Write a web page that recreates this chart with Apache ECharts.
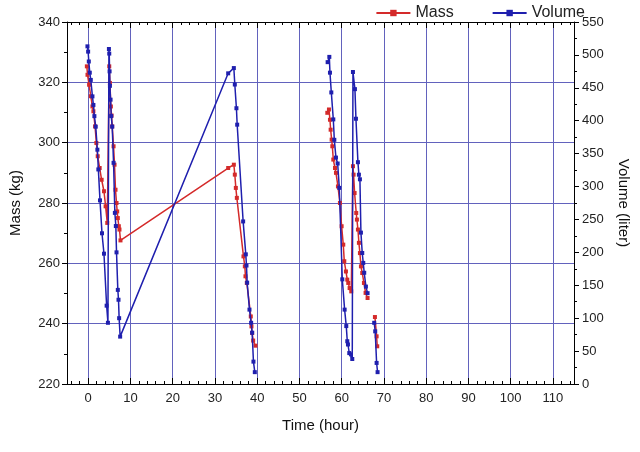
<!DOCTYPE html>
<html>
<head>
<meta charset="utf-8">
<script src="https://cdn.jsdelivr.net/npm/echarts@6/dist/echarts.min.js"></script>
<style>
html,body{margin:0;padding:0;background:#fff;}
#c{width:640px;height:452px;}
</style>
</head>
<body>
<div id="c"></div>
<script>
// Tick values
const xMajorTicks = [0,10,20,30,40,50,60,70,80,90,100,110];
const xMinorTicks = [-4,-2,2,4,6,8,12,14,16,18,22,24,26,28,32,34,36,38,42,44,46,48,52,54,56,58,62,64,66,68,72,74,76,78,82,84,86,88,92,94,96,98,102,104,106,108,112,114];

// Mass series (kg) – null marks a break in the line
const massTime = [
  -0.3,-0.15,0.23,0.63,1.02,1.25,1.64,1.95,2.27,2.73,3.2,3.75,4.14,4.53,
  5.0,5.16,5.39,5.55,5.7,6.02,6.25,6.48,6.72,6.88,7.03,7.27,7.42,7.66,
  33.15,34.49,34.72,34.96,35.2,36.77,37.09,37.24,37.56,38.5,38.66,38.82,39.06,39.61,
  null,
  56.61,57.0,57.24,57.4,57.64,57.8,58.03,58.43,58.66,59.13,59.6,60.0,60.39,60.63,61.02,61.34,61.57,61.89,62.28,
  62.68,62.83,63.07,63.46,63.62,63.86,64.09,64.33,64.57,64.88,65.28,65.67,66.14,
  null,
  67.88,68.28,68.43
];
const massValue = [
  325.3,322.5,319.2,315.4,312.0,310.4,305.4,299.9,295.5,291.6,287.7,283.9,278.9,273.4,
  325.3,319.8,312.0,309.0,305.4,298.8,292.7,284.4,280.0,277.2,275.0,272.3,271.2,267.6,
  291.6,292.7,289.4,285.0,281.7,262.3,259.0,255.7,253.5,242.4,239.1,236.9,234.4,232.7,
  null,
  309.9,311.0,307.6,304.3,301.0,298.8,294.4,291.6,290.0,285.5,280.0,272.3,266.2,260.7,257.3,254.6,253.5,251.8,250.7,
  292.2,289.4,283.3,276.7,274.5,271.2,266.8,263.4,259.0,256.8,253.5,250.2,248.5,
  null,
  242.2,235.8,232.5
];

// Volume series (liter)
const volTime = [
  -0.16,0,0.16,0.39,0.63,1.02,1.25,1.48,1.8,2.19,2.42,2.81,3.28,3.75,4.38,4.69,
  4.92,5.0,5.08,5.16,5.31,5.47,5.7,6.02,6.33,6.56,6.72,7.03,7.19,7.34,7.58,
  33.15,34.49,34.72,35.1,35.28,36.69,37.32,37.48,37.64,38.19,38.58,38.82,39.13,39.45,
  null,
  56.69,57.09,57.24,57.56,58.03,58.27,58.66,59.06,59.45,60.16,60.71,61.1,61.34,61.5,61.81,62.2,62.52,
  62.68,63.15,63.39,63.86,64.09,64.33,64.57,64.88,65.12,65.35,65.75,66.14,
  null,
  67.71,67.95,68.28,68.51
];
const volValue = [
  513,505,490,473,462,437,424,407,391,356,326,279,229,198,119,93,
  509,502,475,453,432,407,391,336,260,240,200,143,128,100,72,
  472,480,455,419,394,247,197,180,154,113,93,78,34,18,
  null,
  489,497,473,443,402,371,344,335,298,159,113,88,65,60,47,45,38,
  474,448,403,337,318,311,230,199,184,169,148,138,
  null,
  93,80,32,18
];

function pairs(t, v) {
  return t.map((x, i) => (x === null || v[i] === null) ? [null, null] : [x, v[i]]);
}

const FONT = 'Liberation Sans, Arial, sans-serif';
const gridColor = '#6262bd';
const red = '#d42a2a';
const blue = '#1f1fae';

const chart = echarts.init(document.getElementById('c'), null, {renderer: 'canvas'});
chart.setOption({
  animation: false,
  backgroundColor: '#ffffff',
  textStyle: {fontFamily: FONT},
  grid: {left: 64, right: 66, top: 22, bottom: 68, containLabel: false},
  legend: {
    top: 0, right: 50,
    itemWidth: 34, itemHeight: 8, itemGap: 38,
    textStyle: {fontSize: 16, color: '#222', fontFamily: FONT},
    data: ['Mass', 'Volume']
  },
  xAxis: [
    {
      type: 'value', min: -5, max: 115, position: 'bottom',
      name: 'Time (hour)', nameLocation: 'middle', nameGap: 34,
      nameTextStyle: {fontSize: 15, color: '#111', fontFamily: FONT},
      axisLine: {show: true, lineStyle: {color: '#000', width: 1}},
      axisTick: {show: true, inside: true, length: 6, customValues: xMajorTicks, lineStyle: {color: '#000'}},
      axisLabel: {show: true, customValues: xMajorTicks, fontSize: 13, color: '#222', margin: 8, fontFamily: FONT},
      splitLine: {show: true, lineStyle: {color: gridColor, width: 1}}
    },
    {
      type: 'value', min: -5, max: 115, position: 'bottom',
      axisLine: {show: false},
      axisTick: {show: true, inside: true, length: 3, customValues: xMinorTicks, lineStyle: {color: '#000'}},
      axisLabel: {show: false},
      splitLine: {show: false}
    },
    {
      type: 'value', min: -5, max: 115, position: 'top',
      axisLine: {show: true, onZero: false, lineStyle: {color: '#000', width: 1}},
      axisTick: {show: true, inside: true, length: 6, customValues: xMajorTicks, lineStyle: {color: '#000'}},
      axisLabel: {show: false},
      splitLine: {show: false}
    },
    {
      type: 'value', min: -5, max: 115, position: 'top',
      axisLine: {show: false},
      axisTick: {show: true, inside: true, length: 3, customValues: xMinorTicks, lineStyle: {color: '#000'}},
      axisLabel: {show: false},
      splitLine: {show: false}
    }
  ],
  yAxis: [
    {
      type: 'value', min: 220, max: 340, interval: 20, position: 'left',
      name: 'Mass (kg)', nameLocation: 'middle', nameGap: 44, nameRotate: 90,
      nameTextStyle: {fontSize: 15, color: '#111', fontFamily: FONT},
      axisLine: {show: true, onZero: false, lineStyle: {color: '#000', width: 1}},
      axisTick: {show: true, inside: false, length: 5, lineStyle: {color: '#000'}},
      minorTick: {show: true, splitNumber: 2, length: 3, lineStyle: {color: '#000'}},
      axisLabel: {fontSize: 13, color: '#222', margin: 7, fontFamily: FONT},
      splitLine: {show: true, lineStyle: {color: gridColor, width: 1}}
    },
    {
      type: 'value', min: 0, max: 550, interval: 50, position: 'right',
      name: 'Volume (liter)', nameLocation: 'middle', nameGap: 42, nameRotate: -90,
      nameTextStyle: {fontSize: 15, color: '#111', fontFamily: FONT},
      axisLine: {show: true, onZero: false, lineStyle: {color: '#000', width: 1}},
      axisTick: {show: true, inside: false, length: 5, lineStyle: {color: '#000'}},
      minorTick: {show: true, splitNumber: 2, length: 3, lineStyle: {color: '#000'}},
      axisLabel: {fontSize: 13, color: '#222', margin: 8, fontFamily: FONT},
      splitLine: {show: false}
    }
  ],
  series: [
    {
      name: 'Mass', type: 'line', xAxisIndex: 0, yAxisIndex: 0,
      data: pairs(massTime, massValue),
      connectNulls: false,
      symbol: 'rect', symbolSize: 4, showAllSymbol: true,
      lineStyle: {color: red, width: 1.5},
      itemStyle: {color: red},
      z: 3
    },
    {
      name: 'Volume', type: 'line', xAxisIndex: 0, yAxisIndex: 1,
      data: pairs(volTime, volValue),
      connectNulls: false,
      symbol: 'rect', symbolSize: 4, showAllSymbol: true,
      lineStyle: {color: blue, width: 1.5},
      itemStyle: {color: blue},
      z: 4
    }
  ]
});
</script>
</body>
</html>
